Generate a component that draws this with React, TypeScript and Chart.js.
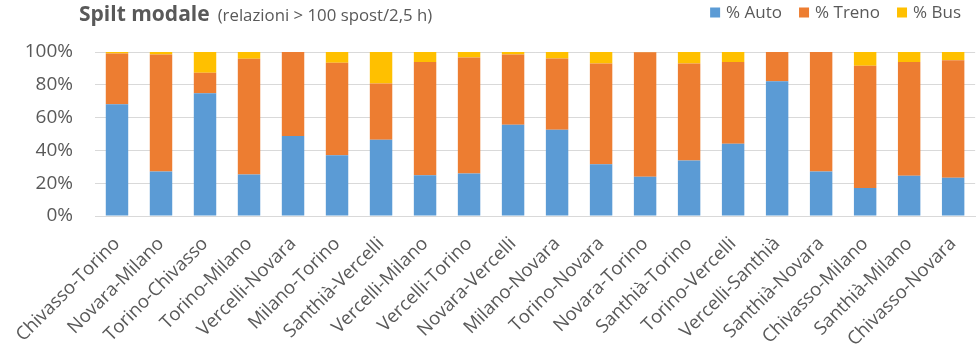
import React, { useEffect, useRef } from "react";
import { Chart, registerables } from "chart.js";

Chart.register(...registerables);

const categories = [
  "Chivasso-Torino", "Novara-Milano", "Torino-Chivasso", "Torino-Milano", "Vercelli-Novara",
  "Milano-Torino", "Santhià-Vercelli", "Vercelli-Milano", "Vercelli-Torino", "Novara-Vercelli",
  "Milano-Novara", "Torino-Novara", "Novara-Torino", "Santhià-Torino", "Torino-Vercelli",
  "Vercelli-Santhià", "Santhià-Novara", "Chivasso-Milano", "Santhià-Milano", "Chivasso-Novara",
];
const autoPct = [68.2, 27.2, 74.9, 25.3, 48.8, 37.1, 46.5, 24.9, 25.9, 55.7, 52.6, 31.5, 23.9, 33.9, 44.1, 82.2, 27.2, 17.1, 24.5, 23.3];
const trenoPct = [30.9, 71.3, 12.4, 70.6, 51.2, 56.3, 34.3, 69.0, 70.8, 42.8, 43.5, 61.5, 75.9, 59.1, 49.8, 17.8, 72.8, 74.5, 69.4, 71.6];
const busPct = [0.9, 1.5, 12.7, 4.1, 0, 6.6, 19.2, 6.1, 3.3, 1.5, 3.9, 7.0, 0.2, 7.0, 6.1, 0, 0, 8.4, 6.1, 5.1];
const yTicks = [0, 20, 40, 60, 80, 100];

const seriesNames = ["% Auto", "% Treno", "% Bus"];
const seriesColors = ["#5B9BD5", "#ED7D31", "#FFC000"];
const titleMain = "Spilt modale";
const titleSub = "(relazioni > 100 spost/2,5 h)";
const TEXT = "#595959";
const FONT = "'Open Sans', 'DejaVu Sans', sans-serif";

const headerPlugin = {
  id: "header",
  afterDraw(chart: any) {
    const ctx = chart.ctx;
    ctx.save();
    ctx.fillStyle = TEXT;
    ctx.textBaseline = "alphabetic";
    ctx.textAlign = "left";
    ctx.font = `bold 21px ${FONT}`;
    ctx.fillText(titleMain, 79, 21);
    const w = ctx.measureText(titleMain).width;
    ctx.font = `16.8px ${FONT}`;
    ctx.fillText(titleSub, 79 + w + 8, 21);

    // legend
    ctx.font = `17px ${FONT}`;
    const box = 10, gapText = 6, gapItem = 17;
    const widths = seriesNames.map((n) => ctx.measureText(n).width);
    let total = 0;
    widths.forEach((tw, i) => {
      total += box + gapText + tw + (i < widths.length - 1 ? gapItem : 0);
    });
    let x = 961 - total;
    const cy = 12.5;
    ctx.textBaseline = "middle";
    seriesNames.forEach((n, i) => {
      ctx.fillStyle = seriesColors[i];
      ctx.fillRect(x, cy - box / 2, box, box);
      ctx.fillStyle = TEXT;
      ctx.fillText(n, x + box + gapText, cy + 1);
      x += box + gapText + widths[i] + gapItem;
    });
    ctx.restore();
  },
};

export default function App() {
  const ref = useRef<HTMLCanvasElement>(null);
  useEffect(() => {
    if (!ref.current) return;
    const values = [autoPct, trenoPct, busPct];
    const chart = new Chart(ref.current, {
      type: "bar",
      data: {
        labels: categories,
        datasets: seriesNames.map((name, i) => ({
          label: name,
          data: values[i],
          backgroundColor: seriesColors[i],
          borderWidth: 0,
          categoryPercentage: 1,
          barPercentage: 0.51,
        })),
      },
      plugins: [headerPlugin],
      options: {
        responsive: false,
        animation: false,
        layout: { padding: { top: 52, right: 6, left: 0, bottom: 0 } },
        plugins: {
          legend: { display: false },
          title: { display: false },
          tooltip: { enabled: false },
        },
        scales: {
          x: {
            stacked: true,
            grid: { display: false, drawTicks: false },
            border: { display: true, color: "#D9D9D9", width: 1 },
            ticks: {
              color: TEXT,
              font: { family: FONT, size: 18.5 },
              minRotation: 45,
              maxRotation: 45,
              autoSkip: false,
              padding: 17,
            },
            afterFit: (s: any) => {
              s.height = 136;
            },
          },
          y: {
            stacked: true,
            min: 0,
            max: 100,
            afterBuildTicks: (s: any) => {
              s.ticks = yTicks.map((v) => ({ value: v }));
            },
            grid: { color: "#D9D9D9", lineWidth: 1, drawTicks: false },
            border: { display: false },
            ticks: {
              color: TEXT,
              font: { family: FONT, size: 19 },
              padding: 22,
              callback: (v: any) => v + "%",
            },
            afterFit: (s: any) => {
              s.width = 95;
            },
          },
        },
      },
    });
    return () => chart.destroy();
  }, []);
  return (
    <div style={{ position: "absolute", left: 0, top: 0, width: 976, height: 352, overflow: "hidden", background: "#fff" }}>
      <canvas ref={ref} width={986} height={352} style={{ display: "block" }} />
    </div>
  );
}
